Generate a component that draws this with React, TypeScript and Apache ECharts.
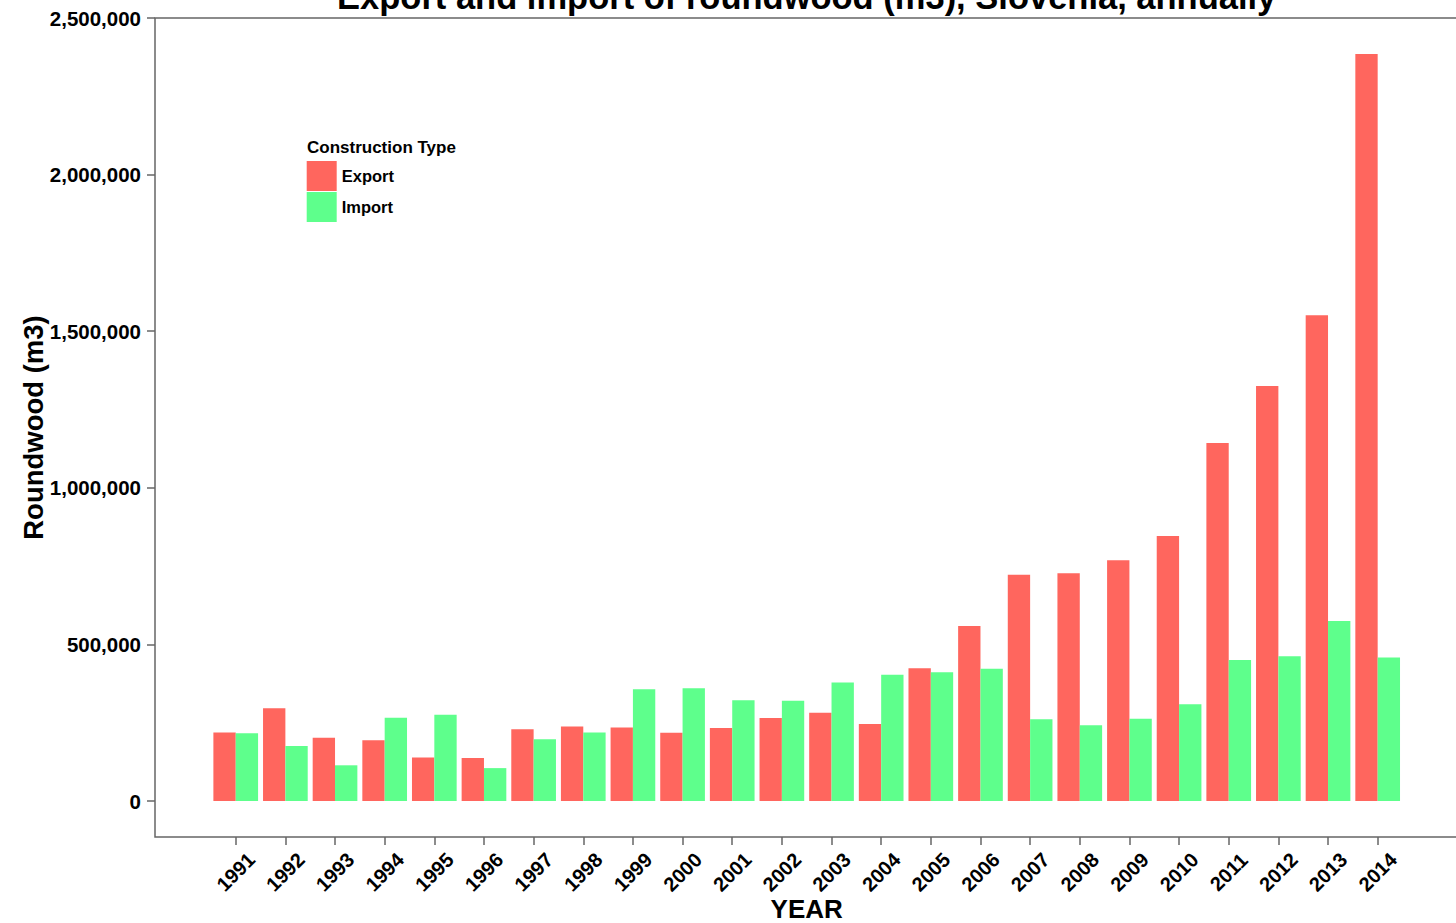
import React, { useEffect, useRef } from "react";
import * as echarts from "echarts";

const years = ["1991","1992","1993","1994","1995","1996","1997","1998","1999","2000","2001","2002","2003","2004","2005","2006","2007","2008","2009","2010","2011","2012","2013","2014"];
const exportVals = [219000, 296000, 202000, 194000, 139000, 137000, 229000, 238000, 235000, 218000, 233000, 265000, 282000, 246000, 424000, 559000, 722000, 727000, 769000, 846000, 1143000, 1325000, 1551000, 2385000];
const importVals = [216000, 176000, 114000, 266000, 275000, 105000, 197000, 219000, 357000, 360000, 322000, 320000, 378000, 403000, 411000, 422000, 261000, 242000, 263000, 309000, 450000, 462000, 575000, 458000];
const yTicks = { min: 0, max: 2500000, interval: 500000 };

const W = 1456;
const H = 923;
const FONT = "'Liberation Sans', Arial, Helvetica, sans-serif";
const RED = "#FF665E";
const GREEN = "#5EFF8C";
const AXIS = "#666666";

// panel frame
const frameLeft = 155;
const frameTop = 18;
const frameBottom = 837;
const zeroY = 801;
const gridLeft = 210.9;
const gridRight = 1402.5;

export default function App() {
  const ref = useRef<HTMLDivElement>(null);
  useEffect(() => {
    document.body.style.margin = "0";
    const chart = echarts.init(ref.current!, null, { renderer: "svg" });
    chart.setOption({
      animation: false,
      backgroundColor: "#ffffff",
      textStyle: { fontFamily: FONT },
      grid: [
        {
          left: gridLeft,
          right: W - gridRight,
          top: frameTop,
          bottom: H - zeroY,
          containLabel: false,
          outerBoundsMode: "none",
        },
        {
          left: gridLeft,
          right: W - gridRight,
          top: frameTop,
          bottom: H - frameBottom,
          containLabel: false,
          outerBoundsMode: "none",
        },
      ],
      legend: {
        orient: "vertical",
        left: 306.7,
        top: 161,
        itemWidth: 30,
        itemHeight: 30,
        itemGap: 1,
        icon: "rect",
        padding: 0,
        textStyle: { fontFamily: FONT, fontWeight: "bold", fontSize: 16.5, color: "#000" },
        data: ["Export", "Import"],
      },
      xAxis: [
        {
          type: "category",
          gridIndex: 0,
          data: years,
          axisLine: { show: false },
          axisTick: { show: false },
          axisLabel: { show: false },
          splitLine: { show: false },
        },
        {
          type: "category",
          gridIndex: 1,
          data: years,
          axisLine: { show: false },
          axisTick: { show: true, alignWithLabel: true, interval: 0, length: 8, lineStyle: { color: AXIS, width: 1.5 } },
          axisLabel: {
            interval: 0,
            rotate: 45,
            align: "center",
            verticalAlign: "middle",
            margin: 35,
            fontFamily: FONT,
            fontWeight: "bold",
            fontSize: 20,
            color: "#000",
          },
          splitLine: { show: false },
        },
      ],
      yAxis: [
        {
          type: "value",
          gridIndex: 0,
          min: yTicks.min,
          max: yTicks.max,
          interval: yTicks.interval,
          offset: gridLeft - frameLeft,
          axisLine: { show: false },
          axisTick: { show: true, length: 8, lineStyle: { color: AXIS, width: 1.5 } },
          splitLine: { show: false },
          axisLabel: {
            margin: 14,
            fontFamily: FONT,
            fontWeight: "bold",
            fontSize: 20.5,
            color: "#000",
            formatter: (v: number) => v.toLocaleString("en-US"),
          },
        },
        {
          type: "value",
          gridIndex: 1,
          show: false,
        },
      ],
      series: [
        {
          name: "Export",
          type: "bar",
          xAxisIndex: 0,
          yAxisIndex: 0,
          data: exportVals,
          barWidth: "45%",
          barGap: "0%",
          itemStyle: { color: RED },
        },
        {
          name: "Import",
          type: "bar",
          xAxisIndex: 0,
          yAxisIndex: 0,
          data: importVals,
          barWidth: "45%",
          barGap: "0%",
          itemStyle: { color: GREEN },
        },
      ],
      graphic: [
        {
          type: "polyline",
          silent: true,
          shape: { points: [[W + 4, frameTop], [frameLeft, frameTop], [frameLeft, frameBottom], [W + 4, frameBottom]] },
          style: { stroke: AXIS, lineWidth: 1.5, fill: null },
        },
        {
          type: "text",
          silent: true,
          x: (gridLeft + gridRight) / 2,
          y: -3.5,
          style: {
            text: "Export and import of roundwood (m3), Slovenia, annually",
            font: `bold 34.5px ${FONT}`,
            fill: "#000",
            align: "center",
            verticalAlign: "middle",
          },
        },
        {
          type: "text",
          silent: true,
          x: (gridLeft + gridRight) / 2,
          y: 909,
          style: {
            text: "YEAR",
            font: `bold 26px ${FONT}`,
            fill: "#000",
            align: "center",
            verticalAlign: "middle",
          },
        },
        {
          type: "text",
          silent: true,
          x: 33,
          y: (frameTop + frameBottom) / 2,
          rotation: Math.PI / 2,
          style: {
            text: "Roundwood (m3)",
            font: `bold 27.5px ${FONT}`,
            fill: "#000",
            align: "center",
            verticalAlign: "middle",
          },
        },
        {
          type: "text",
          silent: true,
          x: 307,
          y: 147.4,
          style: {
            text: "Construction Type",
            font: `bold 17px ${FONT}`,
            fill: "#000",
            align: "left",
            verticalAlign: "middle",
          },
        },
      ],
    });
    return () => chart.dispose();
  }, []);
  return <div ref={ref} style={{ position: "absolute", left: 0, top: 0, width: W, height: H }} />;
}
